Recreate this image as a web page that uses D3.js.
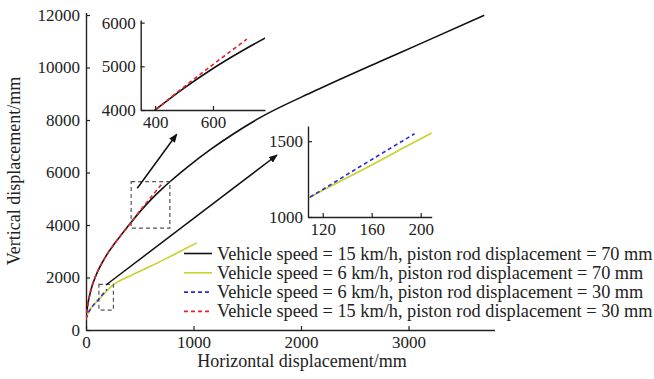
<!DOCTYPE html>
<html>
<head>
<meta charset="utf-8">
<script src="https://cdn.jsdelivr.net/npm/d3@7"></script>
<style>
  body { margin: 0; background: #fff; }
  svg text { font-family: "Liberation Serif", "DejaVu Serif", serif; fill: #222; }
</style>
</head>
<body>
<svg width="654" height="379"></svg>
<script>
// series: [horizontal mm, vertical mm]
const v15p70 = [[0,380],[6,640],[20,1050],[37,1380],[60,1720],[84,1990],[120,2330],[161,2640],[200,2910],[254,3230],[320,3580],[400,4000],[500,4500],[600,4950],[700,5350],[783,5657],[967,6283],[1153,6860],[1370,7468],[1619,8090],[2130,9112],[2735,10231],[3107,10901],[3705,11995]]
const v6p70 = [[0,420],[20,640],[50,850],[80,1000],[108,1124],[160,1343],[208,1549],[239,1670],[409,2060],[564,2360],[750,2730],[874,2990],[1029,3320]]
const v6p30 = [[0,420],[20,640],[50,850],[80,1000],[108,1124],[150,1330],[195,1549]]
const v15p30 = [[0,380],[6,640],[20,1050],[37,1380],[60,1720],[84,1990],[120,2330],[161,2640],[200,2910],[254,3230],[320,3580],[400,4000],[500,4530],[600,5040],[717,5620]]

const legendLabels = [
    "Vehicle speed = 15 km/h, piston rod displacement = 70 mm",
    "Vehicle speed = 6 km/h, piston rod displacement = 70 mm",
    "Vehicle speed = 6 km/h, piston rod displacement = 30 mm",
    "Vehicle speed = 15 km/h, piston rod displacement = 30 mm"
]
const xTicks = [0, 1000, 2000, 3000]
const yTicks = [0, 2000, 4000, 6000, 8000, 10000, 12000]
const inset1XTicks = [400, 600]
const inset1YTicks = [4000, 5000, 6000]
const inset2XTicks = [120, 160, 200]
const inset2YTicks = [1000, 1500]

// zoom boxes and arrows, in data units of the main plot
const box1 = [[420, 3880], [780, 5650]]
const box2 = [[120, 760], [255, 1740]]
const arrow1 = [[477, 5400], [844, 7456]]
const arrow2 = [[186, 1714], [1777, 6667]]

const series = [
    {data: v15p70, color: "#111", dash: null},
    {data: v6p70, color: "#c8d22a", dash: null},
    {data: v6p30, color: "#2b2bd6", dash: "4,3"},
    {data: v15p30, color: "#e2222c", dash: "4,3"}
]

const svg = d3.select("svg")

svg.append("defs").append("marker")
    .attr("id", "head")
    .attr("viewBox", "0 0 10 8")
    .attr("refX", 9).attr("refY", 4)
    .attr("markerWidth", 9).attr("markerHeight", 7)
    .attr("markerUnits", "userSpaceOnUse")
    .attr("orient", "auto")
    .append("path").attr("d", "M0,0L10,4L0,8z").attr("fill", "#111")

////////////////////////
// main plot
const x = d3.scaleLinear().domain([0, 3800]).range([86, 494.5])
const y = d3.scaleLinear().domain([0, 12100]).range([330, 12.4])

function styleAxis(g) {
    g.select(".domain").attr("stroke", "#222").attr("stroke-width", 1.4)
    g.selectAll(".tick line").attr("stroke", "#222").attr("stroke-width", 1.2)
    g.selectAll(".tick text").style("font-size", "17px").attr("fill", "#222")
}

svg.append("g")
    .attr("transform", "translate(0,330)")
    .call(d3.axisBottom(x).tickValues(xTicks).tickFormat(d3.format("d")).tickSizeInner(-4).tickSizeOuter(0).tickPadding(6))
    .call(styleAxis)

svg.append("g")
    .attr("transform", "translate(86,0)")
    .call(d3.axisLeft(y).tickValues(yTicks).tickFormat(d3.format("d")).tickSizeInner(-4).tickSizeOuter(0).tickPadding(6))
    .call(styleAxis)

svg.append("text")
    .attr("x", 302).attr("y", 367)
    .attr("text-anchor", "middle")
    .style("font-size", "18px")
    .text("Horizontal displacement/mm")

svg.append("text")
    .attr("transform", "translate(20,171) rotate(-90)")
    .attr("text-anchor", "middle")
    .style("font-size", "18px")
    .text("Vertical displacement/mm")

svg.append("clipPath").attr("id", "clipMain")
    .append("rect").attr("x", 86).attr("y", 0).attr("width", 420).attr("height", 330)

function drawSeries(g, sx, sy, clipId) {
    const line = d3.line()
        .x(d => sx(d[0]))
        .y(d => sy(d[1]))
        .curve(d3.curveMonotoneX)
    g.append("g").attr("clip-path", `url(#${clipId})`)
        .selectAll("path")
        .data(series)
        .enter()
        .append("path")
        .attr("d", d => line(d.data))
        .attr("fill", "none")
        .attr("stroke", d => d.color)
        .attr("stroke-width", 1.6)
        .attr("stroke-dasharray", d => d.dash)
}

drawSeries(svg, x, y, "clipMain")

// dashed zoom boxes
svg.selectAll(".zbox")
    .data([box1, box2])
    .enter()
    .append("rect")
    .attr("class", "zbox")
    .attr("x", d => x(d[0][0]))
    .attr("y", d => y(d[1][1]))
    .attr("width", d => x(d[1][0]) - x(d[0][0]))
    .attr("height", d => y(d[0][1]) - y(d[1][1]))
    .attr("fill", "none")
    .attr("stroke", "#555")
    .attr("stroke-width", 1.2)
    .attr("stroke-dasharray", "4,3")

svg.selectAll(".arrow")
    .data([arrow1, arrow2])
    .enter()
    .append("line")
    .attr("class", "arrow")
    .attr("x1", d => x(d[0][0])).attr("y1", d => y(d[0][1]))
    .attr("x2", d => x(d[1][0])).attr("y2", d => y(d[1][1]))
    .attr("stroke", "#111")
    .attr("stroke-width", 1.5)
    .attr("marker-end", "url(#head)")

////////////////////////
// insets
function inset(id, xDom, yDom, box, xt, yt) {
    const sx = d3.scaleLinear().domain(xDom).range([box.left, box.right])
    const sy = d3.scaleLinear().domain(yDom).range([box.bottom, box.top])
    const g = svg.append("g")
    g.append("clipPath").attr("id", id)
        .append("rect")
        .attr("x", box.left).attr("y", box.top)
        .attr("width", box.right - box.left).attr("height", box.bottom - box.top)
    drawSeries(g, sx, sy, id)
    g.append("g")
        .attr("transform", `translate(0,${box.bottom})`)
        .call(d3.axisBottom(sx).tickValues(xt).tickFormat(d3.format("d")).tickSizeInner(-4).tickSizeOuter(0).tickPadding(6))
        .call(styleAxis)
    g.append("g")
        .attr("transform", `translate(${box.left},0)`)
        .call(d3.axisLeft(sy).tickValues(yt).tickFormat(d3.format("d")).tickSizeInner(-4).tickSizeOuter(0).tickPadding(5))
        .call(styleAxis)
}

inset("clipIn1", [350, 780], [4000, 6060], {left: 140.7, right: 265, top: 20, bottom: 110}, inset1XTicks, inset1YTicks)
inset("clipIn2", [108, 209], [1000, 1600], {left: 308, right: 431.7, top: 126, bottom: 217}, inset2XTicks, inset2YTicks)

////////////////////////
// legend
const legend = svg.append("g").attr("transform", "translate(184,253.5)")
const rows = legend.selectAll(".row")
    .data(series.map((s, i) => ({...s, label: legendLabels[i]})))
    .enter()
    .append("g")
    .attr("class", "row")
    .attr("transform", (d, i) => `translate(0,${i * 19.3})`)

rows.append("line")
    .attr("x1", 0).attr("x2", 28)
    .attr("stroke", d => d.color)
    .attr("stroke-width", 1.6)
    .attr("stroke-dasharray", d => d.dash)

rows.append("text")
    .attr("x", 33).attr("y", 6)
    .style("font-size", "18.3px")
    .text(d => d.label)
</script>
</body>
</html>
